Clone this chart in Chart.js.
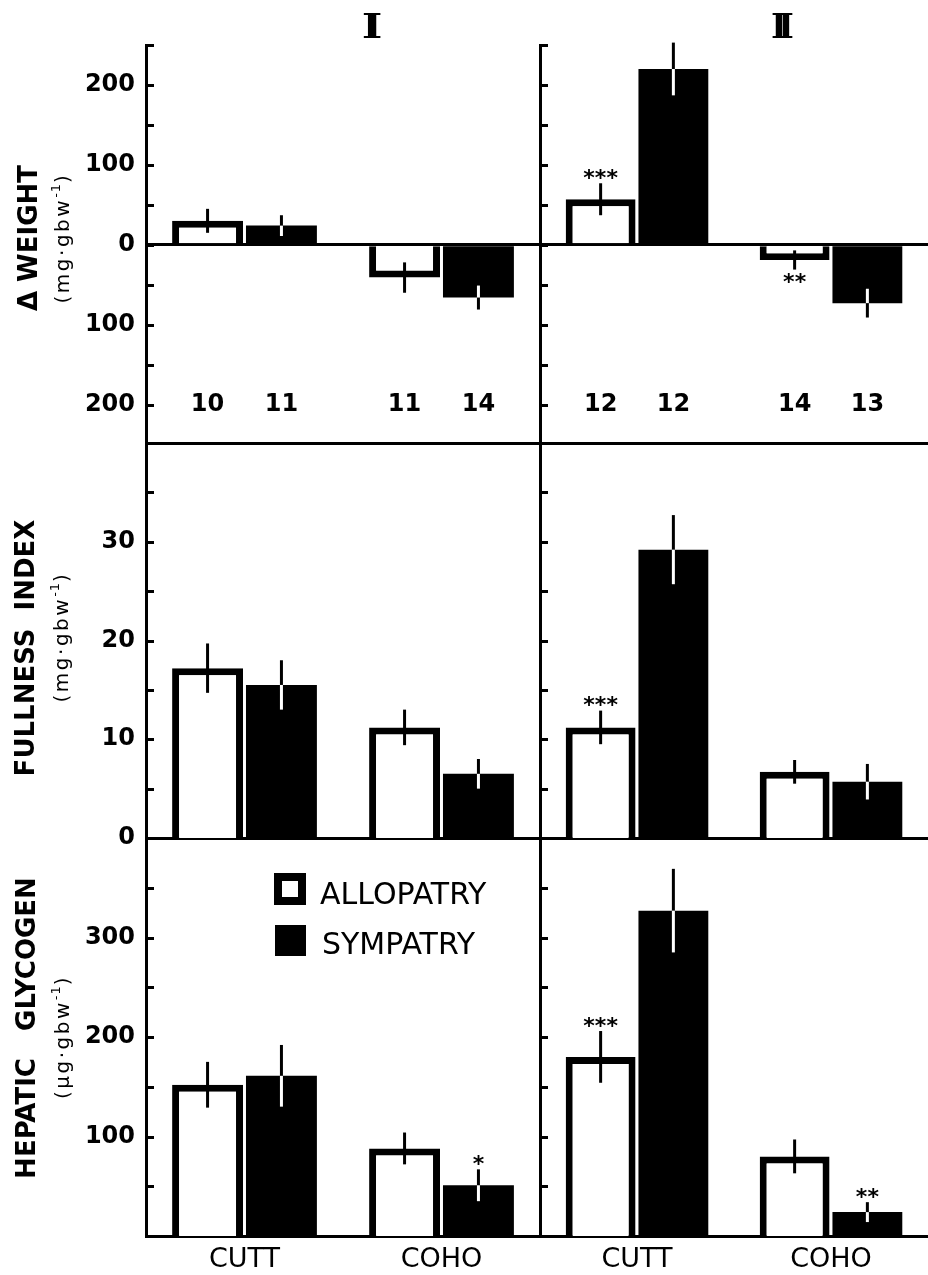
<!DOCTYPE html>
<html>
<head>
<meta charset="utf-8">
<script src="https://cdn.jsdelivr.net/npm/chart.js@4.4.1/dist/chart.umd.min.js"></script>
<style>
html,body{margin:0;padding:0;background:#fff;}
#wrap{position:relative;width:928px;height:1275px;overflow:hidden;background:#fff;font-family:'DejaVu Sans',sans-serif;color:#000;}
#wrap canvas{position:absolute;}
.rot{position:absolute;white-space:pre;line-height:1;transform:translate(-50%,-50%) rotate(-90deg);}
.t1{font-weight:bold;font-size:26px;}
.t2{font-size:20px;letter-spacing:2.5px;}
.sup{font-size:13px;position:relative;top:-9px;letter-spacing:1px;}
.hdr{position:absolute;font-family:'DejaVu Serif',serif;font-weight:bold;font-size:34px;line-height:1;transform:translate(-50%,-50%);white-space:pre;}
.leg{position:absolute;font-size:30px;line-height:1;white-space:pre;}
</style>
</head>
<body>
<div id="wrap">
  <div class="hdr" style="left:372px;top:26px;transform:translate(-50%,-50%) scaleX(1.3);">I</div>
  <div class="hdr" style="left:778px;top:26px;letter-spacing:-9px;">II</div>

  <div class="rot t1" style="left:28px;top:238px;">Δ WEIGHT</div>
  <div class="rot t2" style="left:62px;top:238px;">(mg·gbw<span class="sup">-1</span>)</div>
  <div class="rot t1" style="left:25px;top:648px;">FULLNESS  INDEX</div>
  <div class="rot t2" style="left:61px;top:637px;">(mg·gbw<span class="sup">-1</span>)</div>
  <div class="rot t1" style="left:26px;top:1028px;">HEPATIC   GLYCOGEN</div>
  <div class="rot t2" style="left:62px;top:1037px;">(μg·gbw<span class="sup">-1</span>)</div>

  <div style="position:absolute;left:274px;top:873px;width:32px;height:32px;border:8px solid #000;box-sizing:border-box;background:#fff;"></div>
  <div style="position:absolute;left:275px;top:925px;width:31px;height:31px;background:#000;"></div>
  <div class="leg" style="left:320px;top:879px;">ALLOPATRY</div>
  <div class="leg" style="left:322px;top:929px;">SYMPATRY</div>
</div>
<script>
// ---------------- DATA ----------------
const categories = ['CUTT', 'COHO'];
const seriesNames = ['ALLOPATRY', 'SYMPATRY'];

// Δ weight (mg·gbw-1)
const weightAlloI = [30, -41];
const weightSymI = [24, -66];
const weightAlloErrI = [15, 19];
const weightSymErrI = [13, 15];
const weightAlloII = [57, -19];
const weightSymII = [220, -73];
const weightAlloErrII = [20, 12];
const weightSymErrII = [33, 18];
const nAlloI = ['10', '11'];
const nSymI = ['11', '14'];
const nAlloII = ['12', '14'];
const nSymII = ['12', '13'];
const nLabelValue = -200;

// Fullness index (mg·gbw-1)
const fullAlloI = [17.2, 11.2];
const fullSymI = [15.5, 6.5];
const fullAlloErrI = [2.5, 1.8];
const fullSymErrI = [2.5, 1.5];
const fullAlloII = [11.2, 6.7];
const fullSymII = [29.2, 5.7];
const fullAlloErrII = [1.7, 1.2];
const fullSymErrII = [3.5, 1.8];

// Hepatic glycogen (µg·gbw-1)
const glyAlloI = [152, 88];
const glySymI = [161, 51];
const glyAlloErrI = [23, 16];
const glySymErrI = [31, 16];
const glyAlloII = [180, 80];
const glySymII = [327, 24];
const glyAlloErrII = [26, 17];
const glySymErrII = [42, 10];

// significance marks
const starsWeightAlloII = ['***', '**'];
const starsFullAlloII = ['***', ''];
const starsGlySymI = ['', '*'];
const starsGlyAlloII = ['***', ''];
const starsGlySymII = ['', '**'];
const noStars = ['', ''];

// ticks
const weightTicks = [-200, -150, -100, -50, 0, 50, 100, 150, 200, 250];
const weightTickLabels = ['200', '', '100', '', '0', '', '100', '', '200', ''];
const fullTicks = [0, 5, 10, 15, 20, 25, 30, 35, 40];
const fullTickLabels = ['0', '', '10', '', '20', '', '30', '', ''];
const glyTicks = [50, 100, 150, 200, 250, 300, 350, 400];
const glyTickLabels = ['', '100', '', '200', '', '300', '', ''];

// ---------------- DRAWING ----------------
Chart.defaults.font.family = "'DejaVu Sans', sans-serif";
Chart.defaults.color = '#000';

const decor = {
  id: 'decor',
  afterDatasetsDraw(chart) {
    const ctx = chart.ctx, ys = chart.scales.y;
    chart.data.datasets.forEach((ds, di) => {
      const meta = chart.getDatasetMeta(di);
      meta.data.forEach((bar, j) => {
        const v = ds.data[j], e = ds.err[j];
        const y1 = ys.getPixelForValue(v + e), y2 = ys.getPixelForValue(v - e);
        ctx.save();
        ctx.lineWidth = 3; ctx.strokeStyle = '#000'; ctx.lineCap = 'butt';
        ctx.beginPath(); ctx.moveTo(bar.x, y1); ctx.lineTo(bar.x, y2); ctx.stroke();
        if (ds.dark) {
          const top = Math.min(bar.y, bar.base), bot = Math.max(bar.y, bar.base);
          const a = Math.max(Math.min(y1, y2), top), b = Math.min(Math.max(y1, y2), bot);
          if (b > a) {
            ctx.strokeStyle = '#fff';
            ctx.beginPath(); ctx.moveTo(bar.x, a); ctx.lineTo(bar.x, b); ctx.stroke();
          }
        }
        ctx.fillStyle = '#000'; ctx.textAlign = 'center'; ctx.textBaseline = 'middle';
        const s = ds.stars ? ds.stars[j] : '';
        if (s) {
          const fs = 22;
          ctx.font = 'bold ' + fs + "px 'DejaVu Sans'";
          const cy = v >= 0 ? Math.min(y1, y2) - 9 : Math.max(y1, y2) + 9;
          ctx.fillText(s, bar.x, cy + 0.234 * fs);
        }
        const n = ds.nums ? ds.nums[j] : '';
        if (n) {
          ctx.font = "bold 24px 'DejaVu Sans'";
          ctx.fillText(n, bar.x, ys.getPixelForValue(nLabelValue));
        }
        ctx.restore();
      });
    });
  },
  afterDraw(chart) {
    const ctx = chart.ctx, ys = chart.scales.y, x0 = chart.chartArea.left;
    ctx.save(); ctx.strokeStyle = '#000'; ctx.lineWidth = 3;
    ys.ticks.forEach(t => {
      const y = Math.round(ys.getPixelForValue(t.value)) + 0.5;
      ctx.beginPath(); ctx.moveTo(x0, y); ctx.lineTo(x0 + 8, y); ctx.stroke();
    });
    ctx.restore();
  }
};

const wrap = document.getElementById('wrap');

function panel(o) {
  const cv = document.createElement('canvas');
  cv.width = o.w; cv.height = o.h;
  cv.style.left = o.left + 'px'; cv.style.top = o.top + 'px';
  cv.style.width = o.w + 'px'; cv.style.height = o.h + 'px';
  wrap.insertBefore(cv, wrap.firstChild);
  new Chart(cv, {
    type: 'bar',
    data: {
      labels: categories,
      datasets: [
        { label: seriesNames[0], data: o.allo, backgroundColor: '#fff', borderColor: '#000',
          borderWidth: 7, borderSkipped: 'start', err: o.alloErr, stars: o.alloStars, nums: o.nAllo },
        { label: seriesNames[1], data: o.sym, backgroundColor: '#000', borderColor: '#000',
          borderWidth: 0, err: o.symErr, stars: o.symStars, nums: o.nSym, dark: true }
      ]
    },
    options: {
      responsive: false, animation: false, devicePixelRatio: 1,
      layout: { padding: { top: o.padTop, left: 0, right: 0, bottom: 0 } },
      plugins: { legend: { display: false }, tooltip: { enabled: false } },
      datasets: { bar: { categoryPercentage: 0.75, barPercentage: 0.96 } },
      scales: {
        x: {
          type: 'category', offset: true, z: 1,
          grid: { display: false, drawTicks: false },
          border: { display: true, color: '#000', width: 3 },
          ticks: { display: o.showX, font: { size: 27 }, color: '#000', padding: 8, maxRotation: 0 },
          afterFit(s) { s.height = o.xH; }
        },
        y: {
          type: 'linear', min: o.min, max: o.max, z: 1,
          afterBuildTicks(s) { s.ticks = o.ticks.map(v => ({ value: v })); },
          ticks: { display: o.showY, autoSkip: false, callback: (v, i) => o.tickLabels[i],
                   font: { size: 24, weight: 'bold' }, color: '#000', padding: 11 },
          grid: { display: !!o.zero, drawTicks: false, lineWidth: 3,
                  color: c => (c.tick && c.tick.value === 0) ? '#000' : 'rgba(0,0,0,0)' },
          border: { display: true, color: '#000', width: 3 },
          afterFit(s) { s.width = o.yW; }
        }
      }
    },
    plugins: [decor]
  });
}

const colL = { left: 0, w: 540, yW: 146, showY: true };
const colR = { left: 520, w: 408, yW: 20, showY: false };
const row1 = { top: 0, h: 473, padTop: 45, xH: 30, showX: false, min: -248, max: 250,
               ticks: weightTicks, tickLabels: weightTickLabels, zero: true };
const row2 = { top: 413, h: 455, padTop: 30, xH: 30, showX: false, min: 0, max: 40,
               ticks: fullTicks, tickLabels: fullTickLabels };
const row3 = { top: 808, h: 467, padTop: 30, xH: 39, showX: true, min: 0, max: 400,
               ticks: glyTicks, tickLabels: glyTickLabels };

panel(Object.assign({}, colL, row1, { allo: weightAlloI, sym: weightSymI, alloErr: weightAlloErrI, symErr: weightSymErrI,
  alloStars: noStars, symStars: noStars, nAllo: nAlloI, nSym: nSymI }));
panel(Object.assign({}, colR, row1, { allo: weightAlloII, sym: weightSymII, alloErr: weightAlloErrII, symErr: weightSymErrII,
  alloStars: starsWeightAlloII, symStars: noStars, nAllo: nAlloII, nSym: nSymII }));
panel(Object.assign({}, colL, row2, { allo: fullAlloI, sym: fullSymI, alloErr: fullAlloErrI, symErr: fullSymErrI,
  alloStars: noStars, symStars: noStars }));
panel(Object.assign({}, colR, row2, { allo: fullAlloII, sym: fullSymII, alloErr: fullAlloErrII, symErr: fullSymErrII,
  alloStars: starsFullAlloII, symStars: noStars }));
panel(Object.assign({}, colL, row3, { allo: glyAlloI, sym: glySymI, alloErr: glyAlloErrI, symErr: glySymErrI,
  alloStars: noStars, symStars: starsGlySymI }));
panel(Object.assign({}, colR, row3, { allo: glyAlloII, sym: glySymII, alloErr: glyAlloErrII, symErr: glySymErrII,
  alloStars: starsGlyAlloII, symStars: starsGlySymII }));
</script>
</body>
</html>
